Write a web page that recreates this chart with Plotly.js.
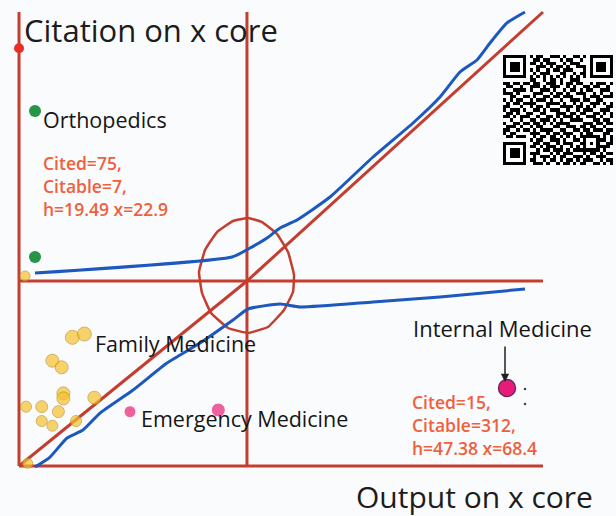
<!DOCTYPE html>
<html>
<head>
<meta charset="utf-8">
<script src="https://cdn.plot.ly/plotly-3.0.1.min.js"></script>
<style>html,body{margin:0;padding:0;background:#fafbfd;}#chart{width:616px;height:516px;}</style>
</head>
<body>
<div id="chart"></div>
<script>
// ---- data (diagram units: output on x core 0..100, citation on x core 0..100) ----
const axisMax = 100;
const midX = 43.5;          // vertical threshold
const midY = 40.75;         // horizontal threshold
const diagX = [0, 43.5, 100];
const diagY = [0, 40.75, 100];
const upperCurveX = [3.05, 40.65, 44.08, 47.33, 49.81, 53.05, 59.35, 67.56, 75.19, 80.34, 84.16, 87.40, 89.89, 93.13, 96.56];
const upperCurveY = [42.51, 46.04, 48.02, 50.22, 52.42, 54.19, 59.25, 68.06, 75.55, 81.28, 86.78, 89.43, 93.17, 97.58, 100.0];
const lowerCurveX = [3.05, 5.92, 9.16, 12.21, 15.46, 21.76, 28.24, 34.54, 40.84, 43.70, 49.81, 53.63, 67.56, 80.34, 96.56];
const lowerCurveY = [-0.22, 1.98, 6.17, 7.93, 11.67, 16.74, 22.69, 27.09, 32.16, 34.58, 35.68, 35.02, 36.12, 37.22, 38.99];
const ringX = [43.70, 46.37, 49.24, 51.34, 52.48, 52.29, 50.57, 47.52, 43.70, 39.89, 36.64, 34.92, 34.35, 35.50, 37.79, 40.84, 43.70];
const ringY = [54.63, 53.74, 51.10, 47.14, 42.07, 38.33, 34.36, 30.62, 29.30, 30.40, 33.70, 38.11, 42.73, 47.58, 51.54, 53.96, 54.63];
const orthoX = [3.05, 3.05];
const orthoY = [78.19, 46.04];
const familyX = [10.18, 12.47, 6.36, 8.14, 8.46, 8.46, 14.38, 1.34, 4.33, 7.51, 4.33, 6.36, 10.88, 1.65, 1.15];
const familyY = [28.35, 29.07, 23.20, 21.74, 16.01, 14.90, 15.05, 13.07, 13.07, 11.97, 9.91, 8.88, 9.91, 0.59, 41.85];
const emergX = [21.18, 38.04];
const emergY = [11.97, 12.33];
const internalX = [93.13];
const internalY = [17.18];
const colonX = [96.56, 96.56];
const colonY = [16.96, 13.66];
const originDotY = 92;
const orthoLabel = ["Cited=75,", "Citable=7,", "h=19.49 x=22.9"];
const internalLabel = ["Cited=15,", "Citable=312,", "h=47.38 x=68.4"];
const qrRows = [
"111111101011001110100110101111111",
"100000100110110001011001001000001",
"101110101101011100101110001011101",
"101110100011101011010011101011101",
"101110101010010110111000101011101",
"100000100101110001100101101000001",
"111111101010101010101010101111111",
"000000001100101101001110000000000",
"110110110110011101011011001011101",
"011001001110101110010100110110010",
"100111101001110100101101011001110",
"111010000111001011010011100101001",
"001100110100110110111000101110111",
"101011001011101001001110110011000",
"010110111100011110100101001110101",
"110001001011010001111011010100011",
"101110100110101110010010111001110",
"011010011001100011101101100110101",
"110101110010011010111010011101001",
"001001001101110101001111000110110",
"100110110110101011110000111011011",
"011101001011000110011101101100100",
"110010110101111001100110110111011",
"101100001110010110111001011000110",
"011011100101101101010101111110101",
"000000001011001110100110100011101",
"111111100110110010111001101010011",
"100000101101011101001010100011110",
"101110100010110111010111111110100",
"101110101110001010111000101101011",
"101110100101110101100111010011100",
"100000101100101101011010111001011",
"111111100111010010110101100110101"
];

// ---- drawing ----
const RED = 'rgb(196,62,48)';
const BLUE = 'rgb(28,88,190)';
const W = 616, H = 516;
const px = v => v / W;
const py = v => 1 - v / H;

const traces = [
  {x:[0,0], y:[0,axisMax], mode:'lines', line:{color:RED,width:3}, hoverinfo:'skip'},
  {x:[0,axisMax], y:[0,0], mode:'lines', line:{color:RED,width:3}, hoverinfo:'skip'},
  {x:[midX,midX], y:[0,axisMax], mode:'lines', line:{color:RED,width:3}, hoverinfo:'skip'},
  {x:[0,axisMax], y:[midY,midY], mode:'lines', line:{color:RED,width:3}, hoverinfo:'skip'},
  {x:diagX, y:diagY, mode:'lines', line:{color:RED,width:3}, hoverinfo:'skip'},
  {x:ringX, y:ringY, mode:'lines', line:{color:RED,width:2.5,shape:'spline',smoothing:0.3}, hoverinfo:'skip'},
  {x:upperCurveX, y:upperCurveY, mode:'lines', line:{color:BLUE,width:3,shape:'spline',smoothing:0.5}, hoverinfo:'skip'},
  {x:lowerCurveX, y:lowerCurveY, mode:'lines', line:{color:BLUE,width:3,shape:'spline',smoothing:0.5}, hoverinfo:'skip'},
  {x:[0], y:[originDotY], mode:'markers', marker:{color:'rgb(235,45,40)',size:10}, hoverinfo:'skip'},
  {x:familyX, y:familyY, mode:'markers',
   marker:{color:'rgb(246,192,44)', size:[14,14,13,13,13,13,13,11,12,12,11,11,11,10,10], line:{color:'rgb(190,150,40)',width:1}}, hoverinfo:'skip'},
  {x:orthoX, y:orthoY, mode:'markers', marker:{color:'rgb(38,150,70)',size:12}, hoverinfo:'skip'},
  {x:emergX, y:emergY, mode:'markers', marker:{color:'rgb(232,32,120)',size:[12,14]}, hoverinfo:'skip'},
  {x:internalX, y:internalY, mode:'markers', marker:{color:'rgb(232,28,118)',size:17,line:{color:'rgb(110,40,110)',width:1.5}}, hoverinfo:'skip'},
  {x:colonX, y:colonY, mode:'markers', marker:{color:'#334455',size:2.5}, hoverinfo:'skip'},
  {z: qrRows.map(r => r.split('').map(Number)), type:'heatmap', xaxis:'x2', yaxis:'y2',
   colorscale:[[0,'#ffffff'],[1,'#000000']], showscale:false, zsmooth:false, hoverinfo:'skip'}
];

const ann = [];
function label(text, x, y, size, color, weight) {
  ann.push({text:text, xref:'paper', yref:'paper', x:px(x), y:py(y), xanchor:'left', yanchor:'middle',
            align:'left', borderpad:0, showarrow:false,
            font:{family:'Open Sans', size:size, color:color, weight:weight||400}});
}
label('Citation on x core', 23, 30, 31, '#1c1c1c');
label('Orthopedics', 42, 120, 21.5, '#161616');
label(orthoLabel.join('<br>'), 42, 186, 17.5, 'rgb(240,96,60)', 600);
label('Family Medicine', 94, 343, 21.5, '#161616');
label('Emergency Medicine', 140, 418, 21.5, '#161616');
label('Internal Medicine', 412, 328, 22, '#161616');
label(internalLabel.join('<br>'), 411, 425, 17.5, 'rgb(240,96,60)', 600);
label('Output on x core', 355, 496, 30, '#1c1c1c');
ann.push({text:'', xref:'paper', yref:'paper', x:px(505), y:py(382), ax:0, ay:-37,
          showarrow:true, arrowhead:2, arrowsize:1.1, arrowwidth:1.5, arrowcolor:'#222'});

const layout = {
  width:W, height:H, margin:{l:0,r:0,t:0,b:0},
  paper_bgcolor:'#fafbfd', plot_bgcolor:'rgba(0,0,0,0)', showlegend:false,
  xaxis:{range:[-3.63,113.93], visible:false, fixedrange:true},
  yaxis:{range:[-11.01,102.64], visible:false, fixedrange:true},
  xaxis2:{domain:[503/W, 613/W], anchor:'y2', visible:false, fixedrange:true},
  yaxis2:{domain:[1-165/H, 1-55/H], anchor:'x2', autorange:'reversed', visible:false, fixedrange:true},
  annotations:ann
};
Plotly.newPlot('chart', traces, layout, {displayModeBar:false, staticPlot:true});
</script>
</body>
</html>
